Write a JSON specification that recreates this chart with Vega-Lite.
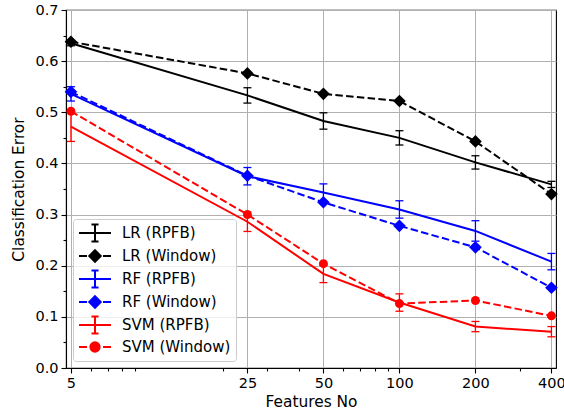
{
  "$schema": "https://vega.github.io/schema/vega-lite/v6.json",
  "width": 490,
  "height": 358,
  "autosize": {"type": "none"},
  "padding": {"left": 66, "top": 10, "right": 8, "bottom": 47},
  "config": {
    "font": "DejaVu Sans",
    "view": {"stroke": "#000000", "strokeWidth": 1.1},
    "axis": {
      "domainColor": "#000000",
      "domainWidth": 1.1,
      "tickColor": "#000000",
      "tickWidth": 1.1,
      "labelColor": "#000000",
      "titleColor": "#000000",
      "titleFontWeight": "normal",
      "labelFontSize": 14.5,
      "titleFontSize": 15.4,
      "gridColor": "#b0b0b0",
      "gridWidth": 1
    }
  },
  "data": {
    "values": [
      {"series": "LR (RPFB)", "method": "RPFB", "f": 5, "y": 0.635, "lo": 0.630, "hi": 0.640},
      {"series": "LR (RPFB)", "method": "RPFB", "f": 25, "y": 0.533, "lo": 0.518, "hi": 0.548},
      {"series": "LR (RPFB)", "method": "RPFB", "f": 50, "y": 0.483, "lo": 0.467, "hi": 0.499},
      {"series": "LR (RPFB)", "method": "RPFB", "f": 100, "y": 0.450, "lo": 0.436, "hi": 0.464},
      {"series": "LR (RPFB)", "method": "RPFB", "f": 200, "y": 0.402, "lo": 0.389, "hi": 0.415},
      {"series": "LR (RPFB)", "method": "RPFB", "f": 400, "y": 0.359, "lo": 0.353, "hi": 0.365},
      {"series": "LR (Window)", "method": "Window", "f": 5, "y": 0.638},
      {"series": "LR (Window)", "method": "Window", "f": 25, "y": 0.576},
      {"series": "LR (Window)", "method": "Window", "f": 50, "y": 0.536},
      {"series": "LR (Window)", "method": "Window", "f": 100, "y": 0.522},
      {"series": "LR (Window)", "method": "Window", "f": 200, "y": 0.443},
      {"series": "LR (Window)", "method": "Window", "f": 400, "y": 0.340},
      {"series": "RF (RPFB)", "method": "RPFB", "f": 5, "y": 0.536, "lo": 0.522, "hi": 0.550},
      {"series": "RF (RPFB)", "method": "RPFB", "f": 25, "y": 0.375, "lo": 0.358, "hi": 0.392},
      {"series": "RF (RPFB)", "method": "RPFB", "f": 50, "y": 0.343, "lo": 0.326, "hi": 0.360},
      {"series": "RF (RPFB)", "method": "RPFB", "f": 100, "y": 0.310, "lo": 0.293, "hi": 0.327},
      {"series": "RF (RPFB)", "method": "RPFB", "f": 200, "y": 0.268, "lo": 0.248, "hi": 0.288},
      {"series": "RF (RPFB)", "method": "RPFB", "f": 400, "y": 0.208, "lo": 0.192, "hi": 0.224},
      {"series": "RF (Window)", "method": "Window", "f": 5, "y": 0.540},
      {"series": "RF (Window)", "method": "Window", "f": 25, "y": 0.376},
      {"series": "RF (Window)", "method": "Window", "f": 50, "y": 0.324},
      {"series": "RF (Window)", "method": "Window", "f": 100, "y": 0.278},
      {"series": "RF (Window)", "method": "Window", "f": 200, "y": 0.236},
      {"series": "RF (Window)", "method": "Window", "f": 400, "y": 0.157},
      {"series": "SVM (RPFB)", "method": "RPFB", "f": 5, "y": 0.472, "lo": 0.443, "hi": 0.501},
      {"series": "SVM (RPFB)", "method": "RPFB", "f": 25, "y": 0.286, "lo": 0.267, "hi": 0.305},
      {"series": "SVM (RPFB)", "method": "RPFB", "f": 50, "y": 0.184, "lo": 0.167, "hi": 0.201},
      {"series": "SVM (RPFB)", "method": "RPFB", "f": 100, "y": 0.128, "lo": 0.111, "hi": 0.145},
      {"series": "SVM (RPFB)", "method": "RPFB", "f": 200, "y": 0.081, "lo": 0.071, "hi": 0.091},
      {"series": "SVM (RPFB)", "method": "RPFB", "f": 400, "y": 0.071, "lo": 0.061, "hi": 0.081},
      {"series": "SVM (Window)", "method": "Window", "f": 5, "y": 0.502},
      {"series": "SVM (Window)", "method": "Window", "f": 25, "y": 0.300},
      {"series": "SVM (Window)", "method": "Window", "f": 50, "y": 0.204},
      {"series": "SVM (Window)", "method": "Window", "f": 100, "y": 0.126},
      {"series": "SVM (Window)", "method": "Window", "f": 200, "y": 0.132},
      {"series": "SVM (Window)", "method": "Window", "f": 400, "y": 0.102}
    ]
  },
  "encoding": {
    "x": {
      "field": "f",
      "type": "quantitative",
      "title": "Features No",
      "scale": {"type": "log", "domain": [4.78, 417], "nice": false},
      "axis": {
        "values": [5, 6, 7, 8, 9, 20, 25, 30, 40, 50, 60, 70, 80, 90, 100, 200, 300, 400],
        "format": "d",
        "labelExpr": "indexof([5,25,50,100,200,400], datum.value) >= 0 ? datum.label : ''",
        "tickSize": {"condition": {"test": "indexof([5,25,50,100,200,400], datum.value) >= 0", "value": 5}, "value": 3},
        "gridOpacity": {"condition": {"test": "indexof([5,25,50,100,200,400], datum.value) >= 0", "value": 1}, "value": 0},
        "grid": true,
        "labelOverlap": false,
        "labelFlush": false,
        "labelBound": false,
        "labelPadding": 3,
        "titlePadding": 5
      }
    },
    "y": {
      "field": "y",
      "type": "quantitative",
      "title": "Classification Error",
      "scale": {"domain": [0, 0.7], "nice": false, "zero": false},
      "axis": {
        "values": [0, 0.05, 0.1, 0.15, 0.2, 0.25, 0.3, 0.35, 0.4, 0.45, 0.5, 0.55, 0.6, 0.65, 0.7],
        "format": ".1f",
        "labelExpr": "abs(datum.value*10 - round(datum.value*10)) < 0.001 ? datum.label : ''",
        "tickSize": {"condition": {"test": "abs(datum.value*10 - round(datum.value*10)) < 0.001", "value": 5}, "value": 3},
        "gridOpacity": {"condition": {"test": "abs(datum.value*10 - round(datum.value*10)) < 0.001", "value": 1}, "value": 0},
        "grid": true,
        "labelOverlap": false,
        "labelBound": false,
        "labelPadding": 3,
        "titlePadding": 8
      }
    },
    "color": {
      "field": "series",
      "type": "nominal",
      "scale": {
        "domain": ["LR (RPFB)", "LR (Window)", "RF (RPFB)", "RF (Window)", "SVM (RPFB)", "SVM (Window)"],
        "range": ["#000000", "#000000", "#0000ff", "#0000ff", "#ff0000", "#ff0000"]
      },
      "legend": {
        "title": null,
        "orient": "bottom-left",
        "offset": 7,
        "padding": 5,
        "rowPadding": 0,
        "labelFontSize": 15,
        "labelColor": "#000000",
        "labelOffset": 26,
        "symbolSize": 256,
        "symbolStrokeWidth": 2,
        "strokeColor": "#cccccc",
        "fillColor": "rgba(255,255,255,0.8)",
        "cornerRadius": 3,
        "encoding": {
          "symbols": {
            "shape": {"value": {"expr": "indexof(datum.value, 'RPFB') >= 0 ? 'M-1,0H3M1,-1.05V1.05M0.56,-1.05H1.44M0.56,1.05H1.44' : (indexof(datum.value, 'SVM') >= 0 ? 'M-1,0H0M2,0H3M0.42,0A0.58,0.58 0 1,0 1.58,0A0.58,0.58 0 1,0 0.42,0Z' : 'M-1,0H0M2,0H3M1,-0.72L1.72,0L1,0.72L0.28,0Z')"}},
            "fill": {"value": {"expr": "scale('color', datum.value)"}},
            "stroke": {"value": {"expr": "scale('color', datum.value)"}},
            "strokeWidth": {"value": 2},
            "strokeDash": {"value": []},
            "opacity": {"value": 1},
            "size": {"value": 256}
          }
        }
      }
    }
  },
  "layer": [
    {
      "transform": [{"filter": "datum.method === 'RPFB'"}],
      "mark": {"type": "line", "strokeWidth": 2}
    },
    {
      "transform": [{"filter": "datum.method === 'Window'"}],
      "mark": {"type": "line", "strokeWidth": 2, "strokeDash": [7.5, 3.3]}
    },
    {
      "transform": [{"filter": "datum.method === 'RPFB'"}],
      "mark": {"type": "rule", "strokeWidth": 1.3},
      "encoding": {
        "y": {
          "field": "lo",
          "type": "quantitative",
          "title": "Classification Error",
          "scale": {"domain": [0, 0.7], "nice": false, "zero": false},
          "axis": {
            "values": [0, 0.05, 0.1, 0.15, 0.2, 0.25, 0.3, 0.35, 0.4, 0.45, 0.5, 0.55, 0.6, 0.65, 0.7],
            "format": ".1f",
            "labelExpr": "abs(datum.value*10 - round(datum.value*10)) < 0.001 ? datum.label : ''",
            "tickSize": {"condition": {"test": "abs(datum.value*10 - round(datum.value*10)) < 0.001", "value": 5}, "value": 3},
            "gridOpacity": {"condition": {"test": "abs(datum.value*10 - round(datum.value*10)) < 0.001", "value": 1}, "value": 0},
            "grid": true,
            "labelOverlap": false,
            "labelBound": false,
            "labelPadding": 3,
            "titlePadding": 8
          }
        },
        "y2": {"field": "hi"}
      }
    },
    {
      "transform": [{"filter": "datum.method === 'RPFB'"}],
      "mark": {"type": "tick", "orient": "horizontal", "size": 8, "thickness": 1.3, "opacity": 1},
      "encoding": {
        "y": {
          "field": "lo",
          "type": "quantitative",
          "title": "Classification Error",
          "scale": {"domain": [0, 0.7], "nice": false, "zero": false},
          "axis": {
            "values": [0, 0.05, 0.1, 0.15, 0.2, 0.25, 0.3, 0.35, 0.4, 0.45, 0.5, 0.55, 0.6, 0.65, 0.7],
            "format": ".1f",
            "labelExpr": "abs(datum.value*10 - round(datum.value*10)) < 0.001 ? datum.label : ''",
            "tickSize": {"condition": {"test": "abs(datum.value*10 - round(datum.value*10)) < 0.001", "value": 5}, "value": 3},
            "gridOpacity": {"condition": {"test": "abs(datum.value*10 - round(datum.value*10)) < 0.001", "value": 1}, "value": 0},
            "grid": true,
            "labelOverlap": false,
            "labelBound": false,
            "labelPadding": 3,
            "titlePadding": 8
          }
        }
      }
    },
    {
      "transform": [{"filter": "datum.method === 'RPFB'"}],
      "mark": {"type": "tick", "orient": "horizontal", "size": 8, "thickness": 1.3, "opacity": 1},
      "encoding": {
        "y": {
          "field": "hi",
          "type": "quantitative",
          "title": "Classification Error",
          "scale": {"domain": [0, 0.7], "nice": false, "zero": false},
          "axis": {
            "values": [0, 0.05, 0.1, 0.15, 0.2, 0.25, 0.3, 0.35, 0.4, 0.45, 0.5, 0.55, 0.6, 0.65, 0.7],
            "format": ".1f",
            "labelExpr": "abs(datum.value*10 - round(datum.value*10)) < 0.001 ? datum.label : ''",
            "tickSize": {"condition": {"test": "abs(datum.value*10 - round(datum.value*10)) < 0.001", "value": 5}, "value": 3},
            "gridOpacity": {"condition": {"test": "abs(datum.value*10 - round(datum.value*10)) < 0.001", "value": 1}, "value": 0},
            "grid": true,
            "labelOverlap": false,
            "labelBound": false,
            "labelPadding": 3,
            "titlePadding": 8
          }
        }
      }
    },
    {
      "transform": [{"filter": "datum.series === 'LR (Window)' || datum.series === 'RF (Window)'"}],
      "mark": {"type": "point", "shape": "diamond", "filled": true, "size": 160, "opacity": 1}
    },
    {
      "transform": [{"filter": "datum.series === 'SVM (Window)'"}],
      "mark": {"type": "point", "shape": "circle", "filled": true, "size": 80, "opacity": 1}
    }
  ]
}
